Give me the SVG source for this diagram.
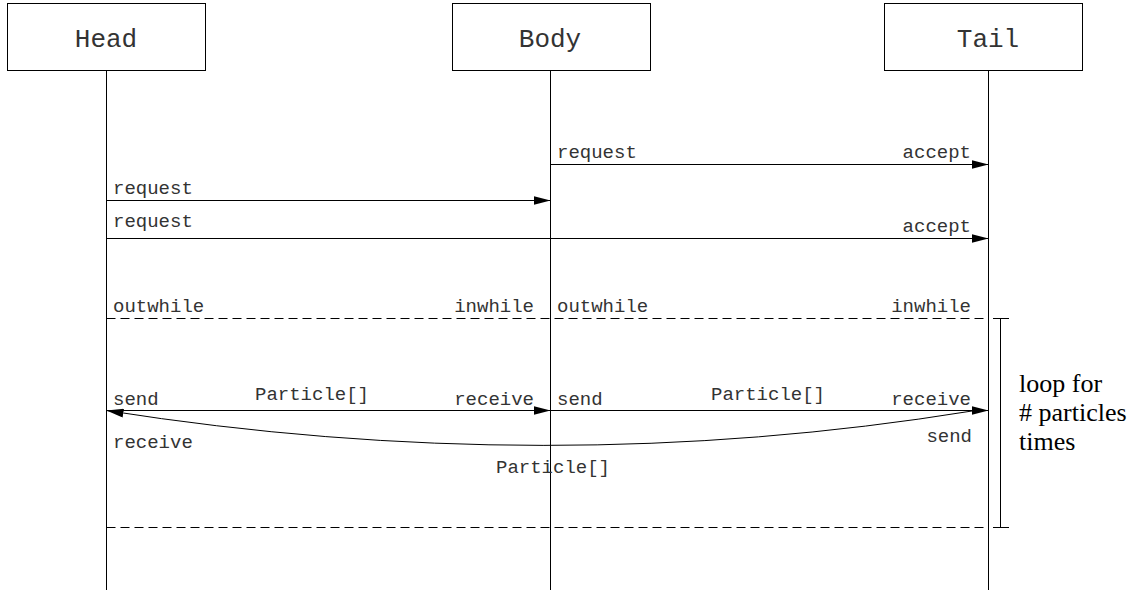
<svg xmlns="http://www.w3.org/2000/svg" width="1134" height="595" viewBox="0 0 1134 595">
<style>
.box{fill:#fff;stroke:#000;stroke-width:1}
.life{stroke:#000;stroke-width:1;fill:none}
.msg{stroke:#000;stroke-width:1;fill:none}
.dash{stroke:#000;stroke-width:1;fill:none;stroke-dasharray:9 5}
.title{font-family:"Liberation Mono",monospace;font-size:26px;fill:#333;text-anchor:middle}
.lbl{font-family:"Liberation Mono",monospace;font-size:19px;fill:#333}
.end{text-anchor:end}
.mid{text-anchor:middle}
.note{font-family:"Liberation Serif",serif;font-size:26px;fill:#000}
</style>
<defs>
<marker id="ah" markerWidth="17" markerHeight="9" refX="17" refY="4.5" orient="auto" markerUnits="userSpaceOnUse">
<path d="M0,0 L17,4.5 L0,9 z" fill="#000"/>
</marker>
</defs>
<g id="head">
<rect class="box" x="7.5" y="3.5" width="198" height="67"/>
<text class="title" x="106" y="47">Head</text>
<line class="life" x1="106.5" y1="71" x2="106.5" y2="590"/>
</g>
<g id="body">
<rect class="box" x="452.5" y="3.5" width="198" height="67"/>
<text class="title" x="550" y="47">Body</text>
<line class="life" x1="550.5" y1="71" x2="550.5" y2="590"/>
</g>
<g id="tail">
<rect class="box" x="884.5" y="3.5" width="198" height="67"/>
<text class="title" x="988" y="47">Tail</text>
<line class="life" x1="988.5" y1="71" x2="988.5" y2="590"/>
</g>
<g id="connectors">
<line class="msg" x1="550.5" y1="164.5" x2="988.5" y2="164.5" marker-end="url(#ah)"/>
<line class="msg" x1="106.5" y1="200.5" x2="550.5" y2="200.5" marker-end="url(#ah)"/>
<line class="msg" x1="106.5" y1="238.5" x2="988.5" y2="238.5" marker-end="url(#ah)"/>
<line class="dash" x1="106.5" y1="318.5" x2="988.5" y2="318.5"/>
<line class="dash" x1="106.5" y1="527.5" x2="988.5" y2="527.5"/>
<line class="msg" x1="106.5" y1="410.5" x2="550.5" y2="410.5" marker-end="url(#ah)"/>
<line class="msg" x1="550.5" y1="410.5" x2="988.5" y2="410.5" marker-end="url(#ah)"/>
<path class="msg" d="M972,411 Q547,480 106.5,410.5" marker-end="url(#ah)"/>
</g>
<g id="labels">
<text class="lbl" x="557" y="158">request</text>
<text class="lbl end" x="971" y="158">accept</text>
<text class="lbl" x="113" y="194">request</text>
<text class="lbl" x="113" y="227">request</text>
<text class="lbl end" x="971" y="232">accept</text>
<text class="lbl" x="113" y="312">outwhile</text>
<text class="lbl end" x="534" y="312">inwhile</text>
<text class="lbl" x="557" y="312">outwhile</text>
<text class="lbl end" x="971" y="312">inwhile</text>
<text class="lbl" x="113" y="405">send</text>
<text class="lbl mid" x="312" y="400">Particle[]</text>
<text class="lbl end" x="534" y="405">receive</text>
<text class="lbl" x="557" y="405">send</text>
<text class="lbl mid" x="768" y="400">Particle[]</text>
<text class="lbl end" x="971" y="405">receive</text>
<text class="lbl end" x="972" y="442">send</text>
<text class="lbl" x="113" y="448">receive</text>
<text class="lbl mid" x="553" y="473">Particle[]</text>
</g>
<g id="loop">
<line class="msg" x1="1000.5" y1="319" x2="1000.5" y2="528"/>
<line class="msg" x1="993" y1="318.5" x2="1009" y2="318.5"/>
<line class="msg" x1="993" y1="527.5" x2="1009" y2="527.5"/>
<text class="note" x="1019" y="392">loop for</text>
<text class="note" x="1019" y="421"># particles</text>
<text class="note" x="1019" y="450">times</text>
</g>
</svg>
